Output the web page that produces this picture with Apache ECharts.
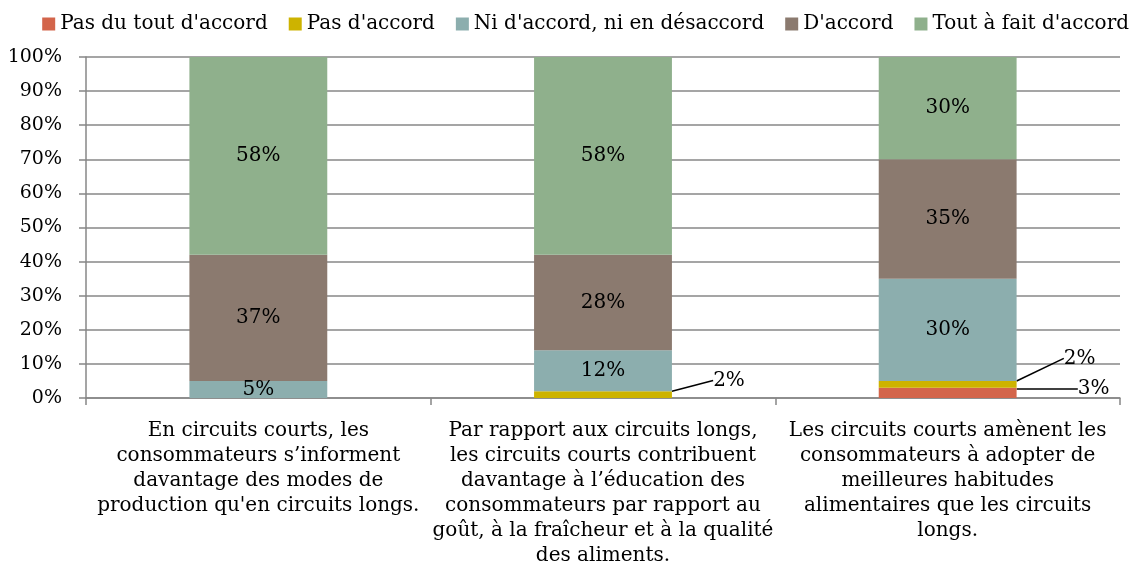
<!DOCTYPE html>
<html>
<head>
<meta charset="utf-8">
<script src="https://cdn.jsdelivr.net/npm/echarts@6/dist/echarts.min.js"></script>
<style>
  html, body { margin: 0; padding: 0; background: #fff; }
  #chart { width: 1143px; height: 584px; }
</style>
</head>
<body>
<div id="chart"></div>
<script>
var categories = [
    "En circuits courts, les\nconsommateurs s\u2019informent\ndavantage des modes de\nproduction qu'en circuits longs.",
    "Par rapport aux circuits longs,\nles circuits courts contribuent\ndavantage \u00e0 l\u2019\u00e9ducation des\nconsommateurs par rapport au\ngo\u00fbt, \u00e0 la fra\u00eecheur et \u00e0 la qualit\u00e9\ndes aliments.",
    "Les circuits courts am\u00e8nent les\nconsommateurs \u00e0 adopter de\nmeilleures habitudes\nalimentaires que les circuits\nlongs."
];
var seriesNames = ["Pas du tout d'accord", "Pas d'accord", "Ni d'accord, ni en d\u00e9saccord", "D'accord", "Tout \u00e0 fait d'accord"];
var pasDuTout = [0, 0, 3];
var pasDaccord = [0, 2, 2];
var niNi = [5, 12, 30];
var daccord = [37, 28, 35];
var toutAFait = [58, 58, 30];
var colors = ['#d3654b', '#cdb300', '#8caeae', '#8b7a6f', '#8fb08c'];

var font = 'DejaVu Serif';
var chart = echarts.init(document.getElementById('chart'), null, {renderer: 'canvas'});

// small segments get their label pushed to the right with a leader line
var moved = {
    '0-2': {dx: 146, dy: -4},
    '1-1': {dx: 126, dy: -14},
    '1-2': {dx: 132, dy: -26}
};

function makeSeries(idx, values) {
    return {
        name: seriesNames[idx],
        type: 'bar',
        stack: 'total',
        barWidth: '40%',
        data: values,
        itemStyle: {color: colors[idx]},
        label: {
            show: true,
            position: 'inside',
            color: '#000',
            fontFamily: font,
            fontSize: 20,
            formatter: function (p) { return p.value ? p.value + '%' : ''; }
        },
        labelLine: {show: true, lineStyle: {color: '#000', width: 1.5}},
        labelLayout: function (p) {
            var m = moved[idx + '-' + p.dataIndex];
            return m ? {dx: m.dx, dy: m.dy} : {};
        }
    };
}

var option = {
    animation: false,
    color: colors,
    legend: {
        top: 9,
        right: 9,
        icon: 'rect',
        itemWidth: 13,
        itemHeight: 13,
        itemGap: 21,
        textStyle: {fontFamily: font, fontSize: 20, color: '#000'},
        data: seriesNames
    },
    grid: {left: 86, right: 23, top: 57, bottom: 186},
    xAxis: {
        type: 'category',
        data: categories,
        axisLine: {lineStyle: {color: '#878787', width: 1.5}},
        axisTick: {show: true, length: 7, lineStyle: {color: '#878787', width: 1.5}},
        axisLabel: {
            interval: 0,
            margin: 20,
            color: '#000',
            fontFamily: font,
            fontSize: 20,
            lineHeight: 25,
            align: 'center'
        }
    },
    yAxis: {
        type: 'value',
        min: 0,
        max: 100,
        interval: 10,
        axisLine: {show: true, lineStyle: {color: '#878787', width: 1.5}},
        axisTick: {show: true, length: 7, lineStyle: {color: '#878787', width: 1.5}},
        splitLine: {lineStyle: {color: '#878787', width: 1.5}},
        axisLabel: {
            margin: 24,
            color: '#000',
            fontFamily: font,
            fontSize: 19,
            formatter: '{value}%'
        }
    },
    series: [
        makeSeries(0, pasDuTout),
        makeSeries(1, pasDaccord),
        makeSeries(2, niNi),
        makeSeries(3, daccord),
        makeSeries(4, toutAFait)
    ]
};

chart.setOption(option);
</script>
</body>
</html>
